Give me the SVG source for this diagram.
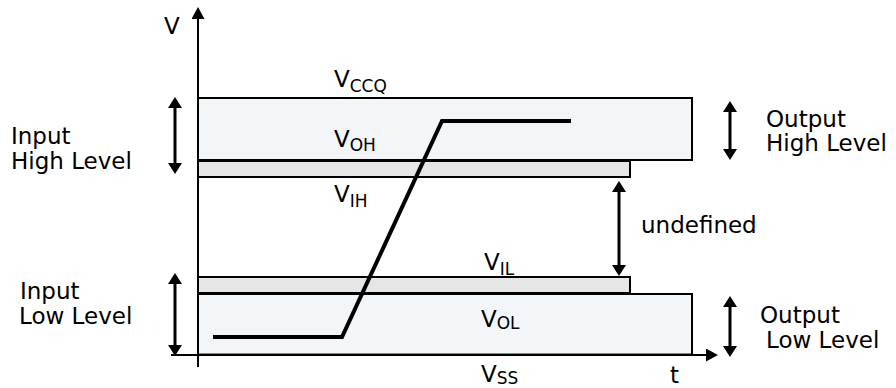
<svg xmlns="http://www.w3.org/2000/svg" width="896" height="388" viewBox="0 0 896 388">
<style>
.lbl{font-family:"DejaVu Sans","Liberation Sans",sans-serif;font-size:23px;fill:#000}
.v{font-family:"DejaVu Sans","Liberation Sans",sans-serif;font-size:23px;fill:#000}
.sub{font-size:17px}
.box{fill:#f3f6f9;stroke:#000;stroke-width:2}
.band{fill:#e6e6e6;stroke:#000;stroke-width:2}
.arr{stroke:#000;stroke-width:3;fill:none;marker-start:url(#ah);marker-end:url(#ah)}
.axis{stroke:#000;stroke-width:2;fill:none;marker-end:url(#axh)}
</style>
<defs>
<marker id="ah" viewBox="0 0 11 14" refX="3" refY="7" markerWidth="11" markerHeight="14" markerUnits="userSpaceOnUse" orient="auto-start-reverse"><path d="M0,0 L11,7 L0,14 z" fill="#000"/></marker>
<marker id="axh" viewBox="0 0 12 13" refX="4" refY="6.5" markerWidth="12" markerHeight="13" markerUnits="userSpaceOnUse" orient="auto"><path d="M0,0 L12,6.5 L0,13 z" fill="#000"/></marker>
</defs>
<rect width="896" height="388" fill="#fff"/>
<g id="output-high">
<rect class="box" x="198" y="98" width="494" height="62"/>
</g>
<g id="input-high-band">
<rect class="band" x="198" y="161" width="432" height="16"/>
</g>
<g id="input-low-band">
<rect class="band" x="198" y="277" width="432" height="16"/>
</g>
<g id="output-low">
<rect class="box" x="198" y="294" width="494" height="61"/>
<line x1="198" y1="353.5" x2="691" y2="353.5" stroke="#6b8fb8" stroke-width="1"/>
</g>
<g id="connectors">
<line class="axis" x1="198" y1="367" x2="198" y2="15"/>
<line class="axis" x1="171" y1="355" x2="710" y2="355"/>
<line class="arr" x1="175" y1="105" x2="175" y2="166"/>
<line class="arr" x1="175" y1="281" x2="175" y2="348"/>
<line class="arr" x1="619" y1="189" x2="619" y2="268"/>
<line class="arr" x1="730" y1="109" x2="730" y2="152"/>
<line class="arr" x1="730" y1="304" x2="730" y2="349"/>
<polyline points="213,337 342,337 442,121 571,121" fill="none" stroke="#000" stroke-width="4"/>
</g>
<g id="labels">
<text class="lbl" x="164" y="34">V</text>
<text class="lbl" x="11" y="144">Input</text>
<text class="lbl" x="11" y="169">High Level</text>
<text class="lbl" x="20" y="299">Input</text>
<text class="lbl" x="19" y="324">Low Level</text>
<text class="lbl" x="766" y="127">Output</text>
<text class="lbl" x="766" y="151">High Level</text>
<text class="lbl" x="760" y="323">Output</text>
<text class="lbl" x="766" y="348">Low Level</text>
<text class="lbl" x="641" y="233">undefined</text>
<text class="lbl" x="670" y="383">t</text>
<text class="v" x="334" y="87">V<tspan class="sub" dy="5">CCQ</tspan></text>
<text class="v" x="334" y="147">V<tspan class="sub" dy="4">OH</tspan></text>
<text class="v" x="334" y="202">V<tspan class="sub" dy="5">IH</tspan></text>
<text class="v" x="484" y="270">V<tspan class="sub" dy="5">IL</tspan></text>
<text class="v" x="481" y="327">V<tspan class="sub" dy="2">OL</tspan></text>
<text class="v" x="481" y="382">V<tspan class="sub" dy="2">SS</tspan></text>
</g>
</svg>
